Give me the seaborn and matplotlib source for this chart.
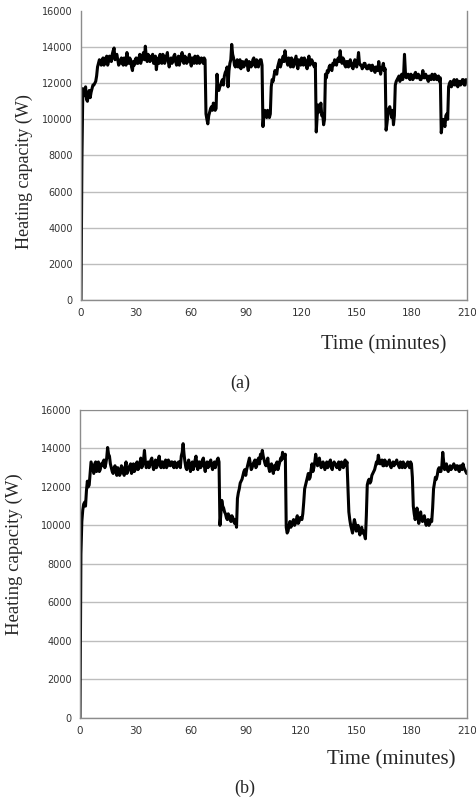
import numpy as np
import pandas as pd
import matplotlib
matplotlib.use('Agg')
import matplotlib.pyplot as plt
import seaborn as sns

# readings on the whole minute
time_min = list(range(0, 211))
# readings on the half minute
time_half = [t + 0.5 for t in range(0, 210)]

# heating capacity (W), case (a)
cap_a = [0, 11700, 11500, 11100, 11400, 11200, 11700, 11900, 12100, 12900,
         13300, 13000, 13400, 13100, 13500, 13200, 13400, 13600, 13950, 13500,
         13300, 13100, 13400, 13000, 13200, 13700, 13100, 13300, 12700, 13000,
         13400, 13100, 13600, 13300, 13700, 14050, 13200, 13500, 13300, 13600,
         13200, 12750, 13400, 13600, 13100, 13500, 13300, 13700, 12900, 13400,
         13200, 13600, 13000, 13500, 13300, 13700, 13100, 13400, 13200, 13600,
         12950, 13300, 13500, 13100, 13400, 13200, 13300, 13400, 10300, 9750,
         10400, 10700, 10900, 10500, 12500, 11600, 11900, 12200, 12400, 12700,
         11800, 13100, 14150, 13400, 12900, 13300, 13100, 12800, 13200, 13000,
         13300, 12700, 13100, 13000, 13400, 12900, 13200, 13100, 13300, 9600,
         10500, 10100, 10400, 10300, 12200, 12400, 12600, 12900, 13300, 13100,
         13500, 13800, 13200, 13400, 12900, 13300, 13100, 13500, 12800, 13200,
         13400, 13000, 13300, 12800, 13500, 13100, 13200, 12900, 9300, 10800,
         10500, 10200, 9700, 12500, 12700, 12900, 12800, 13100, 13300, 13000,
         13400, 13800, 13100, 13300, 12900, 13200, 13000, 13100, 12800, 13300,
         12900, 13700, 13000, 12800, 13100, 12900, 12800, 13000, 12700, 12900,
         12600, 12800, 13200, 12500, 12900, 12700, 9400, 10300, 10700, 10100,
         9700, 11900, 12200, 12400, 12300, 12200, 13600, 12300, 12500, 12200,
         12400, 12300, 12600, 12300, 12400, 12200, 12700, 12300, 12400, 12100,
         12300, 12500, 12200, 12400, 12300, 12100, 9250, 10000, 9600, 10300,
         11800, 12100, 11900, 12200, 12000, 11800, 12100, 12000, 12200, 11900,
         12100]
cap_a_half = [7800, 11300, 11800, 11000, 11600, 11500, 11900, 12000, 12400, 13100,
              13200, 13300, 13000, 13400, 13000, 13500, 13200, 13800, 13300, 13600,
              13000, 13300, 13100, 13400, 13000, 13300, 13400, 12900, 13200, 13300,
              13100, 13400, 13100, 13500, 13300, 13500, 13600, 13200, 13500, 13100,
              13500, 13200, 13100, 13300, 13600, 13100, 13500, 13200, 13300, 13100,
              13500, 13200, 13300, 13000, 13500, 13200, 13500, 13100, 13400, 13200,
              13400, 13100, 13300, 13500, 13100, 13400, 13100, 13300, 10000, 10200,
              10600, 10500, 10800, 10600, 11700, 11800, 12100, 11900, 12600, 12900,
              12700, 13300, 13600, 13000, 13200, 12900, 13300, 13100, 12900, 13200,
              13000, 13200, 12900, 13300, 13000, 13300, 12900, 13300, 13000, 10300,
              10200, 10500, 10100, 11800, 12100, 12700, 12500, 13100, 12900, 13300,
              13200, 13400, 13000, 13200, 13400, 12900, 13300, 13000, 13300, 13000,
              13200, 13400, 13000, 13200, 13000, 13300, 13000, 13100, 10200, 10400,
              10900, 10300, 10000, 12300, 12600, 13000, 12700, 13000, 13100, 13300,
              13200, 13300, 13400, 13000, 13200, 12900, 13300, 12900, 13100, 13000,
              13200, 13100, 13000, 12900, 13100, 12800, 13000, 12800, 13000, 12700,
              12900, 12700, 12800, 12800, 13100, 12800, 9800, 10600, 10400, 10500,
              10200, 12100, 12300, 12100, 12500, 12400, 12600, 12400, 12300, 12500,
              12200, 12500, 12300, 12500, 12200, 12400, 12300, 12500, 12200, 12400,
              12200, 12300, 12500, 12200, 12400, 12300, 9700, 9800, 10200, 10000,
              12000, 11800, 12100, 11900, 12200, 12100, 11900, 12200, 11900, 12200]

# heating capacity (W), case (b)
cap_b = [0, 10200, 11100, 11000, 12300, 12100, 13300, 12900, 13200, 12800,
         13300, 12900, 13100, 13400, 13200, 14050, 13600, 13000, 12700, 13100,
         12600, 12900, 12700, 13000, 12600, 13300, 12800, 13100, 12700, 13200,
         12900, 13300, 13000, 13500, 13100, 13900, 13000, 13300, 13200, 13500,
         12900, 13400, 13100, 13600, 13000, 13300, 13200, 13000, 13400, 13100,
         13300, 13000, 13200, 13100, 13300, 13600, 14250, 13300, 12900, 13400,
         12800, 13300, 13100, 13600, 12900, 13300, 13100, 13500, 12800, 13300,
         13100, 13400, 12900, 13300, 13200, 13500, 10000, 11300, 10900, 10600,
         10300, 10500, 10200, 10400, 10100, 9900, 11700, 12200, 12400, 12800,
         12600, 13100, 13500, 12900, 13200, 13400, 13100, 13500, 13700, 13900,
         13400, 13100, 13500, 12800, 13200, 12700, 12900, 13300, 13100, 13500,
         13800, 13600, 9900, 9700, 10200, 10000, 10300, 10100, 10500, 10200,
         10400, 10600, 11900, 12300, 12700, 12500, 13200, 13000, 13700, 13100,
         13500, 13000, 13300, 12900, 13300, 13100, 13400, 12900, 13300, 13100,
         13200, 12900, 13300, 13000, 13400, 13300, 10700, 10000, 9600, 10300,
         9700, 10000, 9500, 9900, 9700, 9300, 12100, 12400, 12300, 12700,
         12900, 13300, 13650, 13200, 13400, 13100, 13300, 13200, 13400, 13000,
         13300, 13200, 13400, 13100, 13300, 13000, 13200, 13100, 13300, 13000,
         13200, 11000, 10300, 10900, 10100, 10700, 10200, 10500, 10000, 10300,
         10100, 10200, 11900, 12500, 12600, 13000, 12800, 13800, 12900, 13200,
         12800, 13100, 13000, 13200, 12900, 13100, 12800, 13000, 13200, 12900,
         12700]
cap_b_half = [8500, 10800, 11200, 11800, 12000, 12700, 13100, 12700, 13300, 13000,
              12800, 13200, 13300, 13000, 13500, 13700, 13200, 12800, 13000, 12800,
              13000, 12600, 13100, 12800, 13000, 12700, 13000, 13200, 12900, 12800,
              13200, 12900, 13200, 13000, 13400, 13300, 13200, 13000, 13400, 13100,
              13200, 13000, 13400, 13200, 13300, 13000, 13400, 13100, 13200, 13300,
              13100, 13300, 13000, 13300, 13000, 13800, 13700, 13000, 13200, 13100,
              13200, 12900, 13400, 13100, 13300, 13000, 13400, 13100, 13200, 13000,
              13300, 13100, 13200, 13000, 13400, 13300, 10600, 11000, 10700, 10400,
              10600, 10300, 10500, 10200, 10300, 11400, 11900, 12300, 12600, 12900,
              12900, 13300, 13200, 13000, 13300, 13000, 13400, 13200, 13500, 13600,
              13200, 13300, 13000, 13100, 12900, 13100, 13200, 12900, 13300, 13400,
              13500, 13700, 9600, 10000, 9900, 10200, 10000, 10300, 10100, 10400,
              10300, 11200, 12100, 12500, 12400, 12900, 12800, 13300, 13400, 13300,
              13200, 13200, 13100, 13100, 13000, 13300, 13000, 13200, 13200, 13000,
              13300, 13100, 13200, 13200, 13100, 12000, 10300, 9800, 10000, 10100,
              9800, 9700, 9800, 9600, 9500, 10500, 12300, 12200, 12600, 12800,
              13100, 13200, 13400, 13300, 13100, 13400, 13100, 13300, 13100, 13200,
              13100, 13300, 13200, 13000, 13200, 13300, 13000, 13200, 13100, 13300,
              12500, 10600, 10500, 10400, 10500, 10300, 10400, 10200, 10200, 10000,
              10300, 10900, 12200, 12400, 12900, 12800, 13100, 13300, 13000, 12900,
              13000, 12900, 13100, 13000, 13100, 12900, 13100, 12900, 13000, 12800]

x_ticks = [0, 30, 60, 90, 120, 150, 180, 210]
y_ticks = [0, 2000, 4000, 6000, 8000, 10000, 12000, 14000, 16000]


def BuildSeries(whole, half):
    df = pd.concat([pd.DataFrame({'time': time_min, 'cap': whole}),
                    pd.DataFrame({'time': time_half, 'cap': half})])
    return df.sort_values('time').reset_index(drop=True)


df_a = BuildSeries(cap_a, cap_a_half)
df_b = BuildSeries(cap_b, cap_b_half)

sns.set_style('white')
serif = ['Liberation Serif', 'DejaVu Serif']

fig = plt.figure(figsize=(4.77, 8.01), dpi=100)
ax_a = fig.add_axes([0.1698, 0.6255, 0.8092, 0.3608])
ax_b = fig.add_axes([0.1677, 0.1042, 0.8107, 0.3839])

for ax, df, top_line in [(ax_a, df_a, False), (ax_b, df_b, True)]:
    sns.lineplot(data=df, x='time', y='cap', ax=ax, color='black', linewidth=2.2,
                 estimator=None, sort=False)
    ax.set_xlim(0, 210)
    ax.set_ylim(0, 16000)
    ax.set_xticks(x_ticks)
    ax.set_yticks(y_ticks)
    ax.set_xticklabels([str(v) for v in x_ticks], fontsize=7.5, color='#333333')
    ax.set_yticklabels([str(v) for v in y_ticks], fontsize=7, color='#333333')
    ax.grid(axis='y', color='#bdbdbd', linewidth=1)
    ax.set_axisbelow(True)
    for s in ['left', 'right', 'bottom']:
        ax.spines[s].set_color('#8c8c8c')
        ax.spines[s].set_linewidth(1)
    ax.spines['top'].set_visible(top_line)
    ax.spines['top'].set_color('#8c8c8c')
    ax.tick_params(axis='both', length=0, pad=6)
    ax.set_xlabel('')

# upper chart has no line at 16000
ax_a.yaxis.get_gridlines()[-1].set_visible(False)

ax_a.set_ylabel('Heating capacity (W)', family=serif, fontsize=13)
ax_a.yaxis.set_label_coords(-0.124, 0.446)
ax_b.set_ylabel('Heating capacity (W)', family=serif, fontsize=13.5)
ax_b.yaxis.set_label_coords(-0.148, 0.532)

# small ticks between labels on the lower chart
ax_b.set_xticks([15, 45, 75, 105, 135, 165, 195], minor=True)
ax_b.tick_params(axis='x', which='minor', direction='in', length=3, color='#8c8c8c')

fig.text(0.935, 1 - 345 / 801, 'Time (minutes)', family=serif, fontsize=14.7,
         ha='right', va='center')
fig.text(0.503, 1 - 383 / 801, '(a)', family=serif, fontsize=13, ha='center', va='center')
fig.text(0.955, 1 - 760 / 801, 'Time (minutes)', family=serif, fontsize=15,
         ha='right', va='center')
fig.text(0.513, 1 - 788 / 801, '(b)', family=serif, fontsize=13, ha='center', va='center')

fig.savefig('out.png', dpi=100)
